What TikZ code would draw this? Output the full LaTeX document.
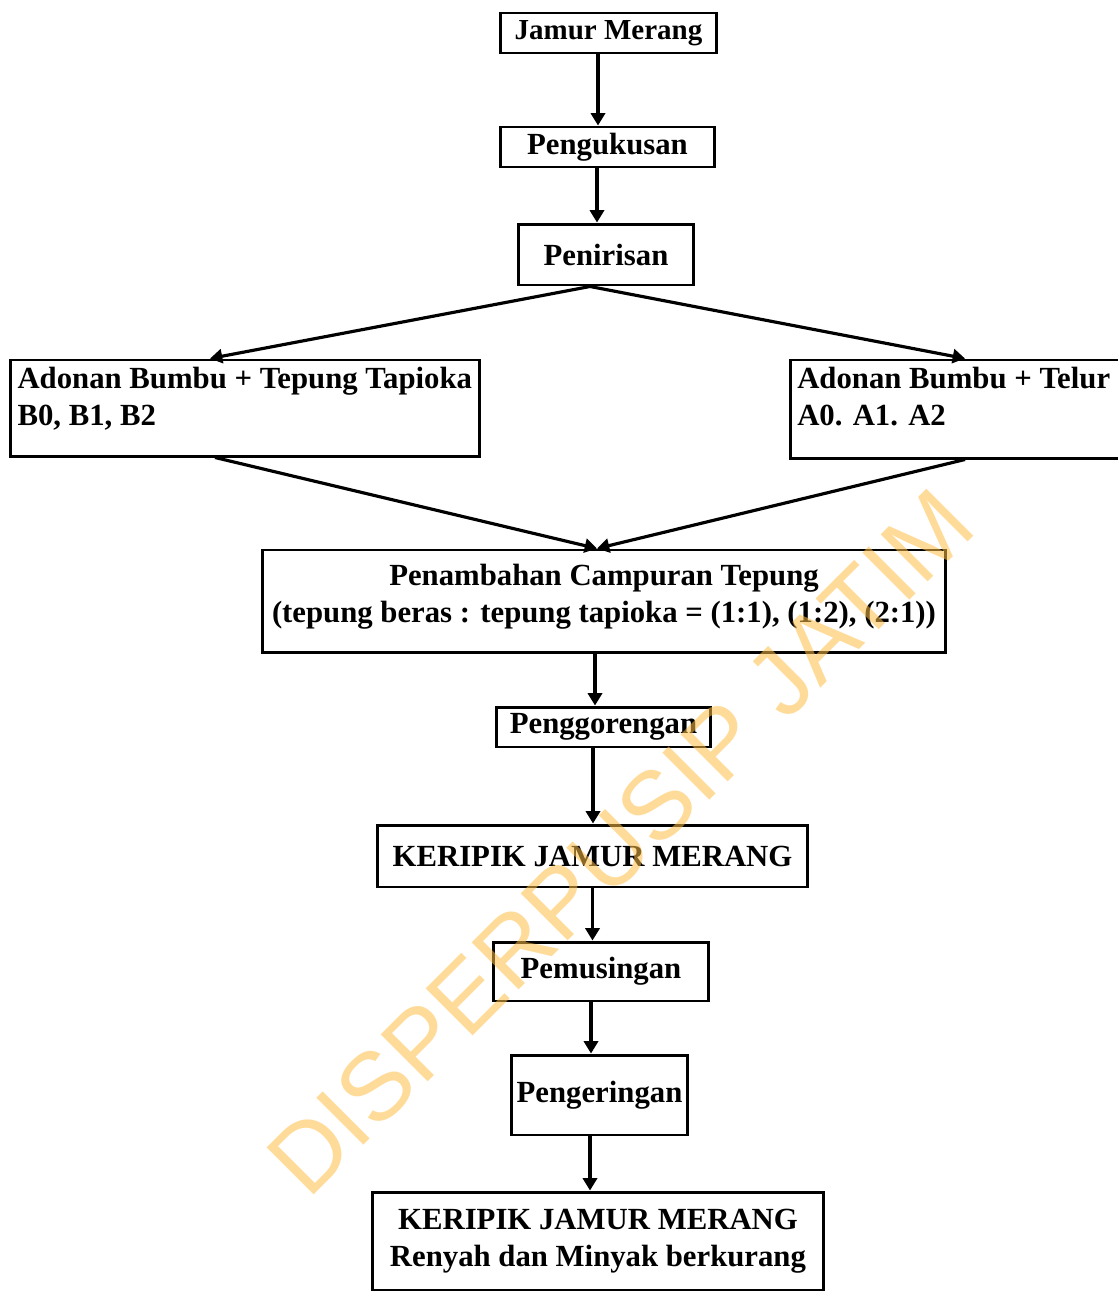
\documentclass[tikz,border=0pt]{standalone}
\usepackage{fontspec}
\setmainfont{Liberation Serif}
\setsansfont{Liberation Sans}
\usetikzlibrary{arrows.meta}

\definecolor{wmark}{RGB}{255,190,70}

\tikzset{
  box/.style={draw, line width=1.7pt, inner sep=2pt,
    font=\fontsize{17.5}{21}\selectfont\bfseries},
  flow/.style={-{Triangle[length=7pt,width=8pt]}, line width=1.8pt},
}

\begin{document}
\begin{tikzpicture}[x=0.02cm,y=-0.02cm]
\useasboundingbox (0,0) rectangle (1118,1291);

\node[box, minimum width=4.34cm, minimum height=0.8cm,
  font=\fontsize{16.5}{20}\selectfont\bfseries] (jm) at (608.5,33) {Jamur Merang};
\node[box, minimum width=4.3cm, minimum height=0.8cm] (pk) at (607.5,147) {Pengukusan};
\node[box, minimum width=3.52cm, minimum height=1.22cm] (pn) at (606,254.5) {Penirisan};
\node[box, inner xsep=4pt, minimum width=9.4cm] (ad1) at (245,408)
  {\parbox[c][1.78cm][t]{9.1cm}{\vspace{2pt}Adonan Bumbu + Tepung Tapioka\\B0, B1, B2}};
\node[box, inner xsep=4pt, minimum width=6.64cm] (ad2) at (956,409)
  {\parbox[c][1.82cm][t]{6.35cm}{\vspace{2pt}Adonan Bumbu + Telur\\A0. A1. A2}};
\node[box, minimum width=13.68cm] (pc) at (604,601)
  {\parbox[c][1.9cm][t]{13.4cm}{\centering\vspace{6pt}Penambahan Campuran Tepung\\
   (tepung beras : tepung tapioka = (1:1), (1:2), (2:1))}};
\node[box, minimum width=4.3cm, minimum height=0.8cm] (pg) at (603.5,727) {Penggorengan};
\node[box, minimum width=8.62cm, minimum height=1.24cm] (kr) at (592.5,856) {KERIPIK JAMUR MERANG};
\node[box, minimum width=4.32cm, minimum height=1.18cm] (pm) at (601,971.5) {Pemusingan};
\node[box, minimum width=3.54cm, minimum height=1.6cm] (pe) at (599.5,1095) {Pengeringan};
\node[box, minimum width=9.04cm, minimum height=1.96cm, align=center] (kj) at (598,1241)
  {KERIPIK JAMUR MERANG\\Renyah dan Minyak berkurang};

\draw[flow] ([xshift=-0.21cm]jm.south) -- ([xshift=-0.21cm]jm.south |- pk.north);
\draw[flow] ([xshift=-0.21cm]pk.south) -- ([xshift=-0.21cm]pk.south |- pn.north);
\draw[flow] ([xshift=-0.32cm]pn.south) -- ([xshift=-0.7cm]ad1.north);
\draw[flow] ([xshift=-0.32cm]pn.south) -- ([xshift=0.18cm]ad2.north);
\draw[flow] ([xshift=-0.6cm]ad1.south) -- ([xshift=-0.14cm]pc.north);
\draw[flow] ([xshift=0.18cm]ad2.south) -- ([xshift=-0.14cm]pc.north);
\draw[flow] ([xshift=-0.18cm]pc.south) -- ([xshift=-0.18cm]pc.south |- pg.north);
\draw[flow] ([xshift=-0.21cm]pg.south) -- ([xshift=-0.21cm]pg.south |- kr.north);
\draw[flow] (kr.south) -- (kr.south |- pm.north);
\draw[flow] ([xshift=-0.2cm]pm.south) -- ([xshift=-0.2cm]pm.south |- pe.north);
\draw[flow] ([xshift=-0.19cm]pe.south) -- ([xshift=-0.19cm]pe.south |- kj.north);

% watermark over the chart
\node[rotate=45, text=wmark, text opacity=0.55,
  font=\fontsize{55}{55}\selectfont\sffamily] (wm) at (620,842) {DISPERPUSIP JATIM};
\end{tikzpicture}
\end{document}
